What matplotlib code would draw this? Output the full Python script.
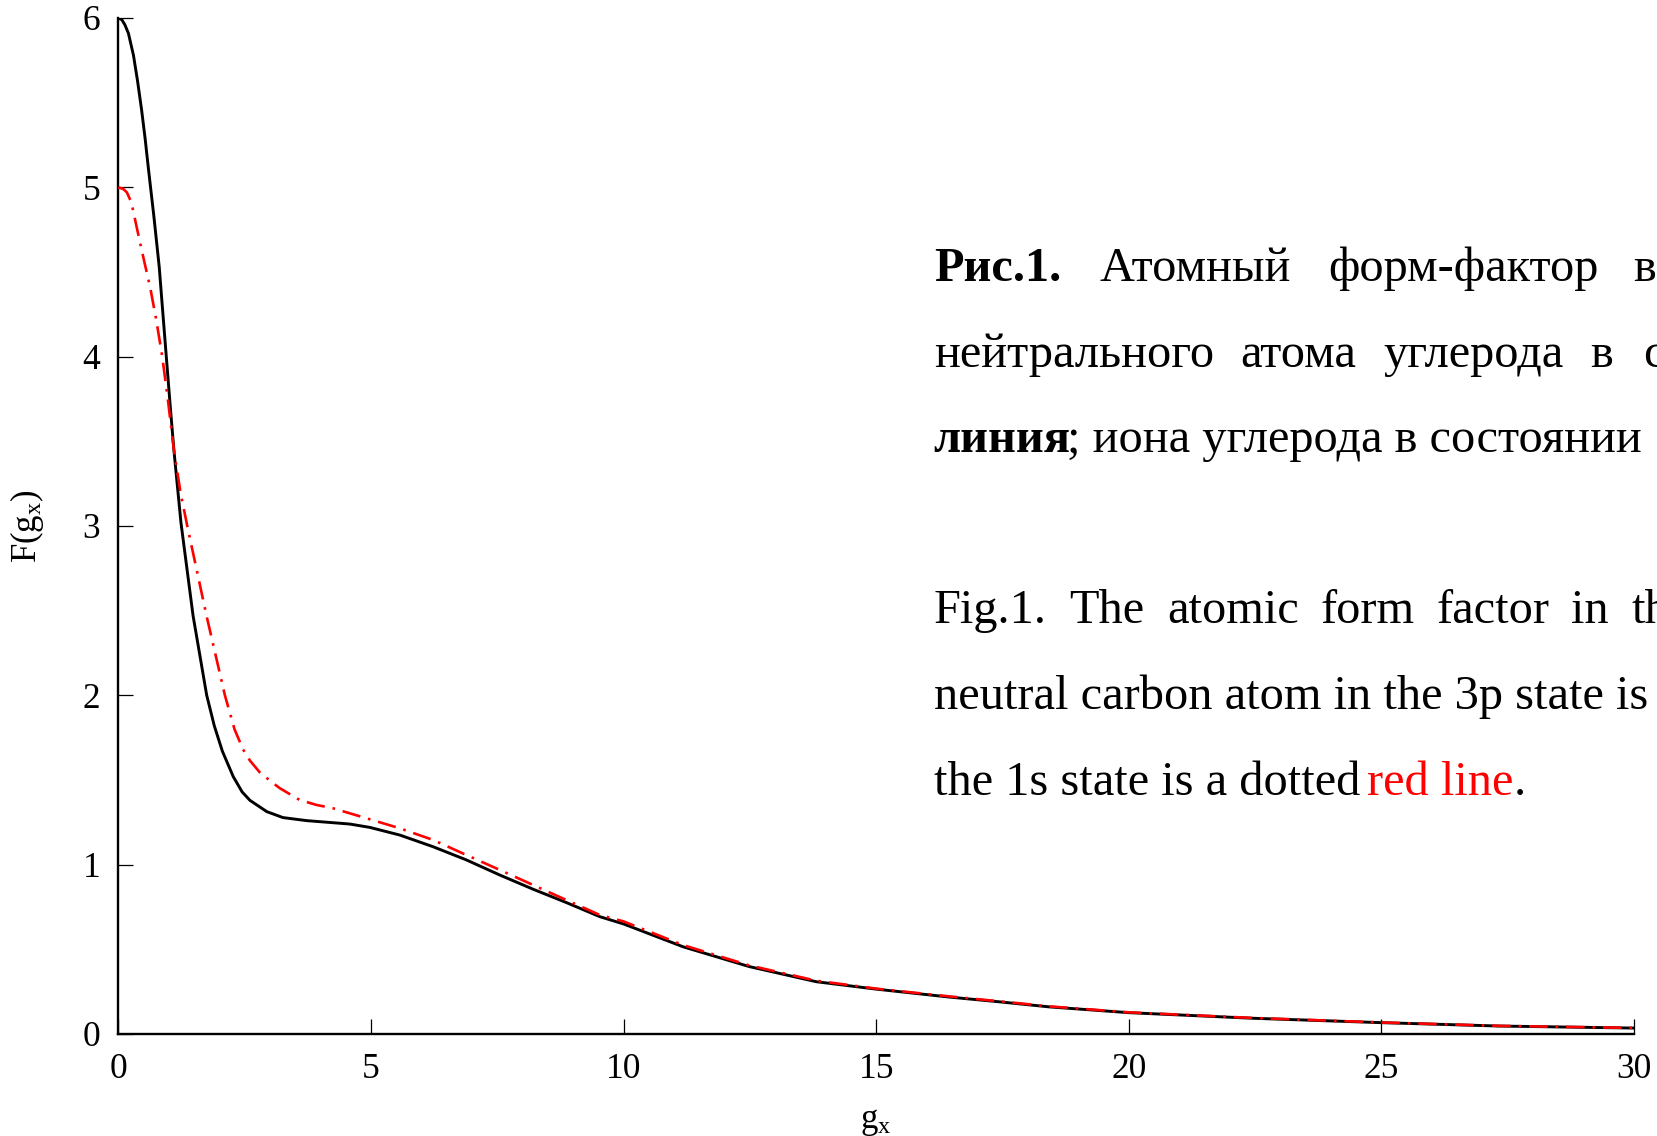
import matplotlib
matplotlib.use("Agg")
import matplotlib.pyplot as plt

# ---------------- data ----------------
g_black = [0, 0.07, 0.13, 0.2, 0.3, 0.38, 0.46, 0.53, 0.6, 0.7, 0.81, 0.86, 0.95, 1.03, 1.1,
           1.24, 1.48, 1.75, 1.9, 2.06, 2.275, 2.45, 2.605, 2.94, 3.26, 3.73, 4.58, 4.98,
           5.57, 6.23, 6.89, 7.55, 8.21, 8.87, 9.53, 10.0, 11.18, 12.49, 13.81, 15.0,
           16.45, 17.44, 18.43, 20.0, 22.45, 25.0, 27.33, 30.0]
F_black = [6.0, 5.99, 5.96, 5.91, 5.78, 5.63, 5.46, 5.29, 5.1, 4.84, 4.53, 4.34, 4.0, 3.7, 3.45,
           3.02, 2.47, 2.0, 1.82, 1.67, 1.52, 1.43, 1.38, 1.313, 1.278, 1.26, 1.24, 1.22,
           1.175, 1.106, 1.028, 0.939, 0.855, 0.776, 0.693, 0.65, 0.515, 0.398, 0.309, 0.265,
           0.218, 0.19, 0.16, 0.126, 0.093, 0.067, 0.047, 0.035]

g_red = [0, 0.1, 0.17, 0.26, 0.36, 0.5, 0.63, 0.75, 0.87, 0.98, 1.1, 1.23, 1.365, 1.75,
         2.11, 2.3, 2.47, 2.605, 2.80, 3.07, 3.20, 3.59, 3.92, 4.25, 4.91, 5.57, 6.23, 6.89,
         7.55, 8.21, 8.87, 9.53, 10.0, 11.18, 12.49, 13.81, 15.0, 16.45, 17.44, 18.43,
         20.0, 22.45, 25.0, 27.33, 30.0]
F_red = [5.0, 4.99, 4.97, 4.91, 4.77, 4.58, 4.41, 4.22, 4.0, 3.75, 3.45, 3.2, 3.0, 2.465,
         2.0, 1.8, 1.68, 1.615, 1.545, 1.48, 1.451, 1.382, 1.353, 1.333, 1.274, 1.215, 1.146, 1.057,
         0.969, 0.880, 0.791, 0.703, 0.665, 0.525, 0.405, 0.315, 0.268, 0.222, 0.193, 0.163,
         0.128, 0.095, 0.068, 0.048, 0.036]

x_ticks = [0, 5, 10, 15, 20, 25, 30]
y_ticks = [0, 1, 2, 3, 4, 5, 6]
x_label = "g$_{\\rm x}$"
y_label = "F(g$_{\\rm x}$)"

# ---------------- style ----------------
plt.rcParams['font.family'] = ['Liberation Serif', 'DejaVu Serif']
plt.rcParams['mathtext.fontset'] = 'custom'
plt.rcParams['mathtext.rm'] = 'Liberation Serif'
plt.rcParams['mathtext.it'] = 'Liberation Serif:italic'

W, H = 1657, 1136
fig = plt.figure(figsize=(W / 100, H / 100), dpi=100)
x0, x1, y0, y1 = 118.3, 1634.0, 1034.0, 18.0
ax = fig.add_axes([x0 / W, 1 - y0 / H, (x1 - x0) / W, (y0 - y1) / H])

ax.plot(g_black, F_black, color='black', lw=2.1, solid_capstyle='round',
        solid_joinstyle='round', zorder=2)
ax.plot(g_red, F_red, color='#ff0000', lw=1.9,
        linestyle=(0, (7.0, 3.0, 1.0, 3.0)), zorder=3)

ax.set_xlim(0, 30)
ax.set_ylim(0, 6)
ax.set_xticks(x_ticks)
ax.set_yticks(y_ticks)
for s in ['top', 'right']:
    ax.spines[s].set_visible(False)
for s in ['left', 'bottom']:
    ax.spines[s].set_linewidth(1.7)
ax.tick_params(direction='in', length=10.5, width=0.9, labelsize=25.5)
ax.tick_params(axis='x', pad=14)
ax.tick_params(axis='y', pad=13)

ax.set_xlabel(x_label, fontsize=25)
ax.xaxis.set_label_coords(0.5, (y0 - 1122) / (y0 - y1))
ax.xaxis.label.set_va('center')
ax.set_ylabel(y_label, fontsize=25)
ax.yaxis.set_label_coords((27 - x0) / (x1 - x0), 0.5)
ax.yaxis.label.set_va('center')
ax.yaxis.label.set_ha('center')

# ---------------- caption text ----------------
fs = 34.8
def put(x, y, s, **kw):
    fig.text(x / W, 1 - y / H, s, fontsize=fs, va='baseline', ha='left', **kw)

base = [281, 366.6, 452.2, 623.4, 709.0, 794.6]

# line 1 (justified)
put(933.8, base[0], "Рис.1.", fontweight='bold')
put(1100.0, base[0], "Атомный")
put(1328.5, base[0], "форм-фактор")
put(1634.0, base[0], "в случае")
# line 2 (justified)
put(933.8, base[1], "нейтрального")
put(1240.4, base[1], "атома")
put(1382.9, base[1], "углерода")
put(1590.5, base[1], "в")
put(1643.6, base[1], "состоянии")
# line 3
put(933.8, base[2], "линия", fontweight='bold')
put(1066.6, base[2], "; иона углерода в состоянии 1s")
# line 5 (justified)
put(933.8, base[3], "Fig.1.")
put(1069.0, base[3], "The")
put(1167.0, base[3], "atomic")
put(1320.0, base[3], "form")
put(1436.0, base[3], "factor")
put(1571.0, base[3], "in")
put(1631.0, base[3], "the")
# line 6
put(933.8, base[4], "neutral carbon atom in the 3p state is")
# line 7
put(933.8, base[5], "the 1s state is a dotted")
put(1367.4, base[5], "red line", color='#ff0000')
put(1513.5, base[5], ".")

fig.savefig("out.png", dpi=100)
